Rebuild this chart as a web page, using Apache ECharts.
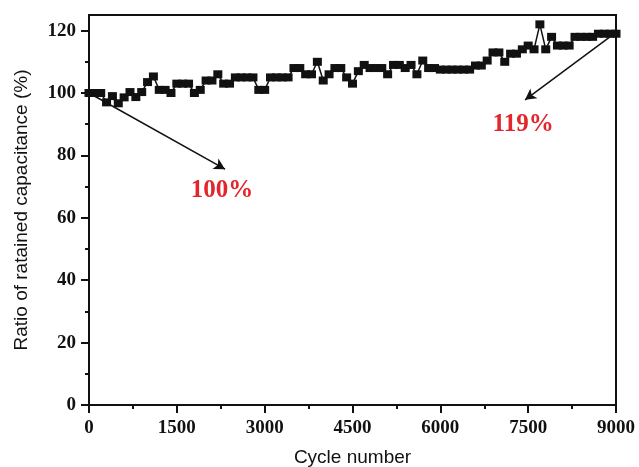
<!DOCTYPE html>
<html>
<head>
<meta charset="utf-8">
<script src="https://cdn.jsdelivr.net/npm/echarts@6/dist/echarts.min.js"></script>
<style>html,body{margin:0;padding:0;background:#fff}#c{width:639px;height:467px}</style>
</head>
<body>
<div id="c"></div>
<script>
// Cycle numbers (every 100 cycles)
const cycles = [];
for (let c = 0; c <= 9000; c += 100) cycles.push(c);
// Ratio of retained capacitance (%)
const ratio = [
  100, 100, 100, 97, 99, 96.7, 98.6, 100.3, 98.7, 100.3,
  103.5, 105.3, 101, 101, 100, 103, 103, 103, 100, 101,
  104, 104, 106, 103, 103, 105, 105, 105, 105, 101,
  101, 105, 105, 105, 105, 108, 108, 106, 106, 110,
  104, 106, 108, 108, 105, 103, 107, 109, 108, 108,
  108, 106, 109, 109, 108, 109, 106, 110.4, 108, 108,
  107.5, 107.5, 107.5, 107.5, 107.5, 107.5, 108.8, 108.8, 110.4, 113,
  113, 110, 112.6, 112.6, 114, 115.2, 114, 122, 114, 118,
  115.2, 115.2, 115.2, 118, 118, 118, 118, 119, 119, 119,
  119
];
const xTicks = [0, 1500, 3000, 4500, 6000, 7500, 9000];
const yTicks = [0, 20, 40, 60, 80, 100, 120];
const yMinorTicks = [10, 30, 50, 70, 90, 110];
// annotations: [startCycle, startValue, endCycle, endValue]
const arrows = [[0, 100, 2323, 75.6], [9000, 119.4, 7447, 97.8]];
const notes = [{ text: '100%', cycle: 2272, value: 68.8 }, { text: '119%', cycle: 7413, value: 89.9 }];

const serif = '"Liberation Serif","Times New Roman",serif';
const sans = '"Liberation Sans",Arial,sans-serif';

const chart = echarts.init(document.getElementById('c'), null, { renderer: 'canvas' });
chart.setOption({
  animation: false,
  backgroundColor: '#fff',
  grid: { left: 89, right: 23, top: 15, bottom: 62, containLabel: false, outerBoundsMode: 'none',
    show: true, borderColor: '#111', borderWidth: 2, backgroundColor: 'transparent' },
  xAxis: {
    type: 'value', min: 0, max: 9000, interval: 1500,
    name: 'Cycle number', nameLocation: 'middle', nameGap: 43,
    nameTextStyle: { fontFamily: sans, fontSize: 19, color: '#111' },
    axisLine: { show: true, lineStyle: { color: '#111', width: 2 } },
    axisTick: { show: true, inside: false, length: 8, lineStyle: { color: '#111', width: 2 } },
    minorTick: { show: true, splitNumber: 2, length: 4, lineStyle: { color: '#111', width: 2 } },
    axisLabel: { margin: 14, fontFamily: serif, fontWeight: 'bold', fontSize: 19, color: '#111',
      customValues: xTicks, formatter: v => String(v) },
    splitLine: { show: false }
  },
  yAxis: [{
    type: 'value', min: 0, max: 125,
    name: 'Ratio of ratained capacitance (%)', nameLocation: 'middle', nameGap: 58,
    nameTextStyle: { fontFamily: sans, fontSize: 19, color: '#111' },
    axisLine: { show: true, lineStyle: { color: '#111', width: 2 } },
    axisTick: { show: true, inside: false, length: 8, lineStyle: { color: '#111', width: 2 }, customValues: yTicks },
    axisLabel: { margin: 13, fontFamily: serif, fontWeight: 'bold', fontSize: 19, color: '#111', customValues: yTicks,
      formatter: v => String(v) },
    splitLine: { show: false }
  }, {
    type: 'value', min: 0, max: 125, position: 'left', offset: 0,
    axisLine: { show: false },
    axisTick: { show: true, inside: false, length: 4, lineStyle: { color: '#111', width: 2 }, customValues: yMinorTicks },
    axisLabel: { show: false },
    splitLine: { show: false }
  }],
  series: [{
    type: 'line',
    data: cycles.map((c, i) => [c, ratio[i]]),
    symbol: 'rect', symbolSize: [9, 8], showSymbol: true,
    itemStyle: { color: '#111' },
    lineStyle: { color: '#111', width: 1.5 },
    silent: true,
    markLine: {
      silent: true, symbol: ['none', 'arrow'], symbolSize: [9, 11],
      lineStyle: { color: '#111', width: 1.5, type: 'solid' },
      label: { show: false },
      data: arrows.map(a => [{ coord: [a[0], a[1]] }, { coord: [a[2], a[3]] }])
    },
    markPoint: {
      silent: true, symbol: 'circle', symbolSize: 0,
      label: { show: true, position: 'inside', fontFamily: serif, fontWeight: 'bold', fontSize: 25, color: '#e3262b',
        formatter: p => p.name },
      data: notes.map(n => ({ name: n.text, coord: [n.cycle, n.value] }))
    }
  }]
});
</script>
</body>
</html>
